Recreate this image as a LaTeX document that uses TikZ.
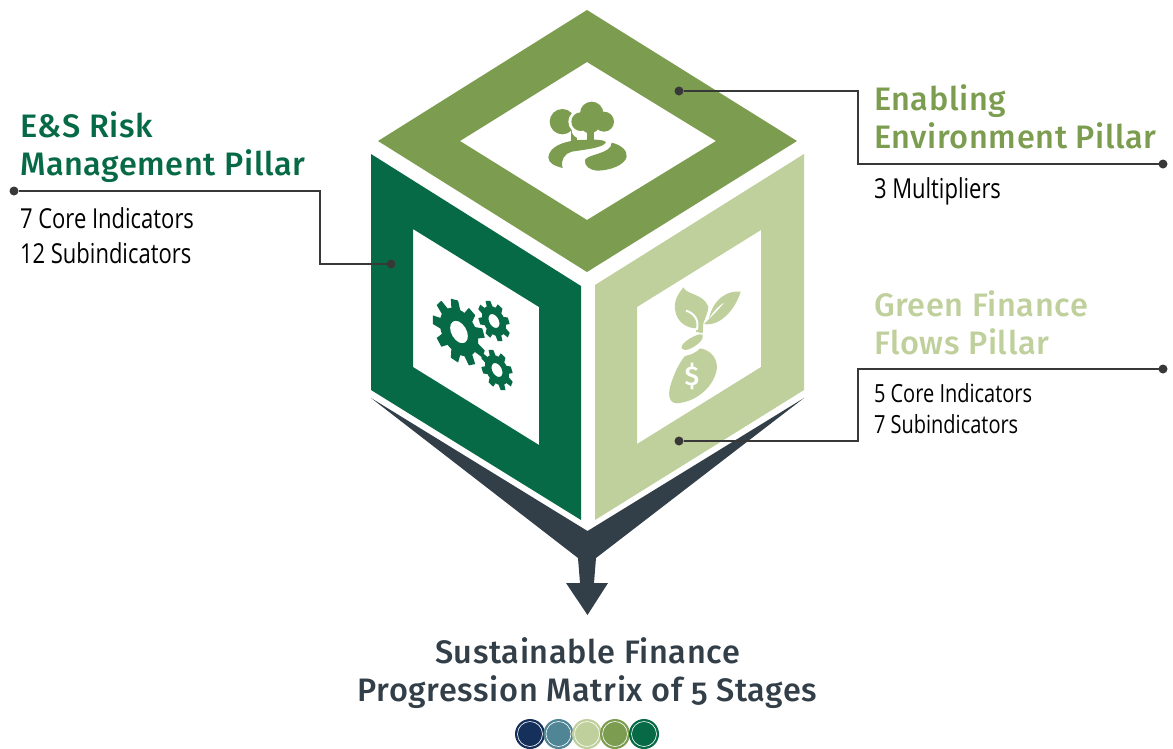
\documentclass[tikz,border=0pt]{standalone}
\usepackage{fontspec}
\setmainfont{Fira Sans}[BoldFont=Fira Sans Medium,Numbers=OldStyle,LetterSpace=1.8]
\newfontfamily\condfont{Open Sans}[FakeStretch=0.8]
\definecolor{mygreen}{HTML}{066A46}
\definecolor{mymid}{HTML}{7C9D50}
\definecolor{mylight}{HTML}{BFD09C}
\definecolor{myslate}{HTML}{333F48}
\definecolor{mynavy}{HTML}{14305B}
\definecolor{myteal}{HTML}{4F8595}
\definecolor{myline}{HTML}{383838}
\usetikzlibrary{positioning,calc}
\newcommand{\cogpath}[3]{% teeth, outer radius, inner radius
  (0:#3) \foreach \a in {1,...,#1} {
    -- ({(\a-1)*360/#1+360/#1*.16}:#3)
    -- ({(\a-1)*360/#1+360/#1*.30}:#2)
    -- ({(\a-1)*360/#1+360/#1*.70}:#2)
    -- ({(\a-1)*360/#1+360/#1*.84}:#3)
    -- ({\a*360/#1}:#3)
  } -- cycle}
\begin{document}
\begin{tikzpicture}[x=1pt,y=-1pt,
    every node/.style={inner sep=0pt,outer sep=0pt},
    headtext/.style={font=\bfseries\fontsize{32.5}{38}\selectfont,align=left,anchor=west},
    subtext/.style={font=\condfont\fontsize{27.5}{35}\selectfont,align=left,anchor=west,text=black},
    pdot/.style={circle,fill=myline,minimum size=9pt},
    leader/.style={draw=myline,line width=1.5pt},
    stagedot/.style={circle,minimum size=30pt}
    ]
    \useasboundingbox (0,0) rectangle (1173,748);

    % the arrow
    \fill[myslate] (371,398) -- (587.5,531) -- (804,398) -- (596,558) -- (594,583) -- (608,583)
      -- (587.5,615) -- (566,583) -- (580,583) -- (578,558) -- cycle;

    % the three faces
    \fill[mymid,even odd rule] (587,10) -- (797,141) -- (587,272) -- (378,141) -- cycle
      (587,62) -- (716,141) -- (587,220) -- (460,141) -- cycle;
    \fill[mygreen,even odd rule] (371,154) -- (581,286) -- (581,520) -- (371,390) -- cycle
      (413,229) -- (539,307) -- (539,445) -- (413,367) -- cycle;
    \fill[mylight,even odd rule] (804,154) -- (595,285) -- (595,520) -- (804,390) -- cycle
      (761,230) -- (637,307) -- (637,444) -- (761,367) -- cycle;

    % trees
    \begin{scope}[shift={(500,80)},scale=1/3]
      \fill[mymid] (187,125) circle [radius=38];
      \fill[mymid] (213,150) rectangle (231,190);
      \fill[white] (275,100) circle [radius=44] (240,125) circle [radius=35] (240,150) circle [radius=25];
      \fill[mymid] (275,100) circle [radius=35] (242,125) circle [radius=28] (312,125) circle [radius=30]
        (270,130) circle [radius=30];
      \fill[mymid] (262,140) rectangle (282,190);
      \fill[mymid] (145,232) .. controls (148,200) and (190,183) .. (240,180)
        .. controls (280,178) and (310,178) .. (318,186)
        .. controls (312,203) and (260,208) .. (215,215)
        .. controls (195,220) and (180,240) .. (188,264)
        .. controls (165,258) and (145,250) .. (145,232) -- cycle;
      \fill[mymid] (335,188) .. controls (365,195) and (382,212) .. (380,230)
        .. controls (375,255) and (330,272) .. (290,272)
        .. controls (270,270) and (252,258) .. (255,240)
        .. controls (262,222) and (335,222) .. (335,188) -- cycle;
    \end{scope}

    % gears
    \begin{scope}[shift={(459,332)},xscale=.85,yslant=-.4]
      \fill[mygreen,even odd rule] \cogpath{9}{31}{22.5} (0,0) circle [radius=10.5];
    \end{scope}
    \begin{scope}[shift={(494,321)},xscale=.85,yslant=-.4]
      \fill[mygreen,even odd rule] \cogpath{8}{19}{14} (0,0) circle [radius=6.5];
    \end{scope}
    \begin{scope}[shift={(497,370)},xscale=.85,yslant=-.4]
      \fill[mygreen,even odd rule] \cogpath{8}{19}{14} (0,0) circle [radius=6.5];
    \end{scope}

    % money bag
    \begin{scope}[shift={(640,270)},scale=1/3]
      \fill[mylight] (130,52) .. controls (140,75) and (190,70) .. (205,110)
        .. controls (205,125) and (195,145) .. (190,160)
        -- (188,190) -- (168,185) -- (170,175)
        .. controls (135,175) and (100,150) .. (105,100)
        .. controls (108,80) and (120,65) .. (130,52) -- cycle;
      \draw[white,line width=2pt] (138,122) .. controls (160,128) and (180,150) .. (170,180);
      \fill[mylight] (302,65) .. controls (265,60) and (220,85) .. (207,145)
        .. controls (222,120) and (240,105) .. (255,95)
        .. controls (240,115) and (215,140) .. (192,162)
        .. controls (240,170) and (285,120) .. (302,65) -- cycle;
      \fill[mylight] (188,194) .. controls (190,205) and (185,215) .. (165,228)
        .. controls (150,238) and (135,245) .. (125,235)
        .. controls (122,225) and (135,215) .. (150,205)
        .. controls (165,198) and (175,190) .. (188,194) -- cycle;
      \fill[mylight] (180,235) .. controls (215,240) and (235,270) .. (230,300)
        .. controls (222,345) and (175,395) .. (110,400)
        .. controls (85,398) and (82,370) .. (95,335)
        .. controls (105,305) and (120,275) .. (135,258)
        .. controls (150,255) and (170,248) .. (180,235) -- cycle;
      \node[text=white,font=\bfseries\fontsize{27}{27}\selectfont] (dollar) at (156,318) {\$};
    \end{scope}

    % the labels
    \node[headtext,text=mygreen] (esrisk) at (20,147) {E\&S Risk\\Management Pillar};
    \node[subtext] (esnums) at (20,235.5) {7 Core Indicators\\12 Subindicators};
    \node[headtext,text=mymid] (enabling) at (874,117) {Enabling\\Environment Pillar};
    \node[subtext] (ennums) at (874,191) {3 Multipliers};
    \node[headtext,text=mylight] (greenfin) at (874,323) {Green Finance\\Flows Pillar};
    \node[subtext,font=\condfont\fontsize{25}{31}\selectfont] (gfnums) at (874,409) {5 Core Indicators\\7 Subindicators};
    \node[font=\bfseries\fontsize{32.5}{38}\selectfont,align=center,text=myslate] (matrix) at (587.5,673) {Sustainable Finance\\Progression Matrix of 5 Stages};

    % the leaders
    \node[pdot] (esout) at (14,191) {};
    \node[pdot] (esin) at (391,264) {};
    \node[pdot] (enin) at (679,91) {};
    \node[pdot] (enout) at (1163,164) {};
    \node[pdot] (gfout) at (1163,369) {};
    \node[pdot] (gfin) at (679,441) {};
    \coordinate (esbend) at (320,191);
    \coordinate (esbendb) at (320,264);
    \coordinate (enbend) at (858,91);
    \coordinate (enbendb) at (858,164);
    \coordinate (gfbend) at (858,369);
    \coordinate (gfbendb) at (858,441);
    \draw[leader] (esout) -- (esbend) -- (esbendb) -- (esin);
    \draw[leader] (enin) -- (enbend) -- (enbendb) -- (enout);
    \draw[leader] (gfout) -- (gfbend) -- (gfbendb) -- (gfin);

    % the stages
    \node[stagedot,fill=mynavy] (st1) at (530,734) {};
    \node[stagedot,fill=myteal] (st2) at (558.5,734) {};
    \node[stagedot,fill=mylight] (st3) at (587,734) {};
    \node[stagedot,fill=mymid] (st4) at (615,734) {};
    \node[stagedot,fill=mygreen] (st5) at (644,734) {};
    \foreach \s in {st1,st2,st3,st4,st5}
      \draw[white,line width=.6pt] (\s) circle [radius=12.5];
\end{tikzpicture}
\end{document}
